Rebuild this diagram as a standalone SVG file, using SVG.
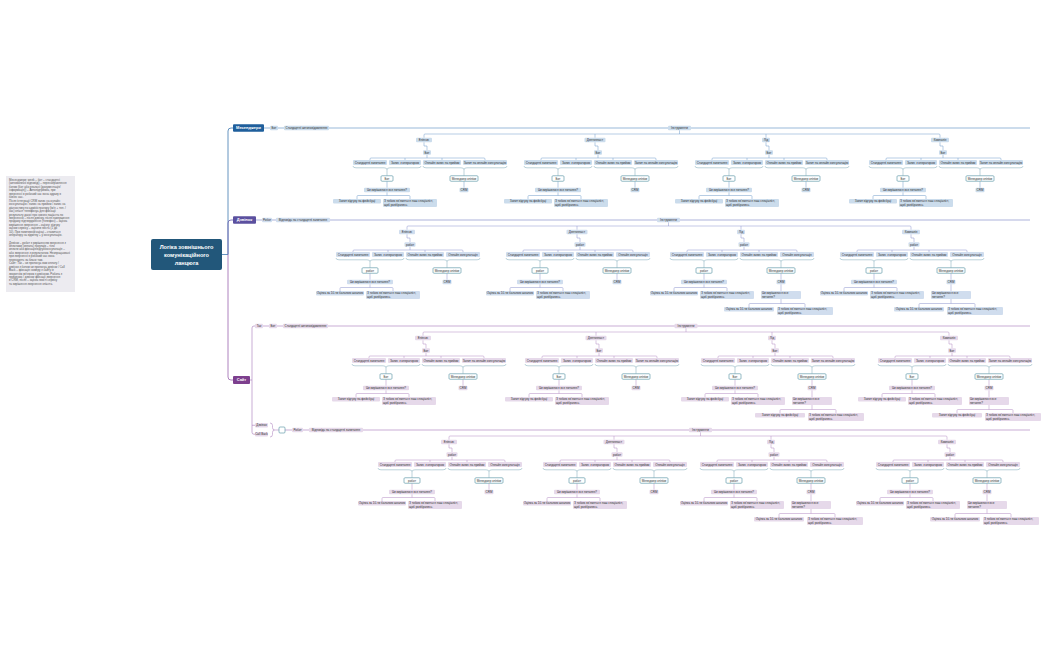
<svg xmlns="http://www.w3.org/2000/svg" width="1050" height="650" viewBox="0 0 1050 650">
<style>
.t{font-family:"Liberation Sans",Arial,sans-serif;font-size:3px;fill:#2f2f2f;text-anchor:middle}
.tl{text-anchor:start}
.mn{font-family:"Liberation Sans",Arial,sans-serif;font-size:4px;font-weight:bold;fill:#fff;text-anchor:middle}
.rt{font-family:"Liberation Sans",Arial,sans-serif;font-size:5.6px;font-weight:bold;fill:#fff;text-anchor:middle}
.nt{font-family:"Liberation Sans",Arial,sans-serif;font-size:2.9px;fill:#555}
.bb{fill:#cbdcec;rx:1px}
.bv{fill:#d0ddee;rx:1px}
.bp{fill:#e6d9ea;rx:1px}
.bo{fill:#fff;stroke:#4f8fa0;stroke-width:.6;rx:1px}
.lb{fill:none;stroke:#6e9bc8;stroke-width:.5}
.lv{fill:none;stroke:#8a92cc;stroke-width:.5}
.lp{fill:none;stroke:#b28ac3;stroke-width:.5}
.br{fill:none;stroke:#7aa7b6;stroke-width:.5}
</style>
<defs>
<path id="skL" d="M-5,14.25V18H-2V22.25M-2,26.75V30M-59,32V31Q-59,30 -58,30H55Q56,30 56,31V32M-24,30V32M13,30V32M-42,53.25V59.75M35,53.25V59.75M-42,64.25V67.5M-72,71V68.5Q-72,67.5 -71,67.5H-20Q-19,67.5 -19,68.5V71"/>
<path id="skS" d="M-5,14.25V18H-2V22.25M-2,26.75V30M-59,32V31Q-59,30 -58,30H50Q51,30 51,31V32M-24,30V32M13,30V32M-42,53.25V59.75M35,53.25V59.75M-42,64.25V67.5M-72,71V68.5Q-72,67.5 -71,67.5H-20Q-19,67.5 -19,68.5V71"/>
<path id="bkL" d="M-76,38q0,1.8 3,1.8H-45q3,0 3,1.8q0,-1.8 3,-1.8H-11q3,0 3,-1.8M-6,38q0,1.8 3,1.8H32q3,0 3,1.8q0,-1.8 3,-1.8H75q3,0 3,-1.8M-42,41.6V47.75M35,41.6V47.75"/>
<path id="bkS" d="M-76,38q0,1.8 3,1.8H-45q3,0 3,1.8q0,-1.8 3,-1.8H-11q3,0 3,-1.8M-6,38q0,1.8 3,1.8H32q3,0 3,1.8q0,-1.8 3,-1.8H65q3,0 3,-1.8M-42,41.6V47.75M35,41.6V47.75"/>
<path id="ex" d="M35,64.25V71M35,79V83.5M3,87V84.5Q3,83.5 4,83.5H58Q59,83.5 59,84.5V87"/>
</defs>
<rect width="1050" height="650" fill="#fff"/>

<g id="note">
<rect x="6" y="176" width="69" height="116" fill="#ecebf0"/>
<text class="nt">
<tspan x="9" y="181">Месенджери: week – бот – стандартні</tspan>
<tspan x="9" y="184.45">(автоматичні відповіді) – перенаправлення</tspan>
<tspan x="9" y="187.9">ботом (бот або реальні (документація/</tspan>
<tspan x="9" y="191.35">інформація)) – Автопідтримка, при</tspan>
<tspan x="9" y="194.8">зверненні в робочий час вона одразу в</tspan>
<tspan x="9" y="198.25">бізнес час.</tspan>
<tspan x="9" y="201.7">Після інтеграції CRM запис на онлайн</tspan>
<tspan x="9" y="205.15">консультацію / запис на прийом / запис на</tspan>
<tspan x="9" y="208.6">діагностику по адміністратору (ім'я + тел. /</tspan>
<tspan x="9" y="212.05">час) клієнт телефонує для фіксації</tspan>
<tspan x="9" y="215.5">результату даної про нового пацієнта по</tspan>
<tspan x="9" y="218.95">зверненню – після дзвінку, після завершення</tspan>
<tspan x="9" y="222.4">продажу підтвердження (телефон) – оцінка</tspan>
<tspan x="9" y="225.85">вирішення звернення – оцінку: відгуку</tspan>
<tspan x="9" y="229.3">оцінки сервісу – оцінити якість (1 до</tspan>
<tspan x="9" y="232.75">10). При позитивній оцінці – ставиться</tspan>
<tspan x="9" y="236.2">оператору на відмітку + у консультацію.</tspan>
<tspan x="9" y="243.5">Дзвінок – робот з вирішенням звернення з</tspan>
<tspan x="9" y="246.95">оплатами (оплата) покупців – тіло</tspan>
<tspan x="9" y="250.4">оплати або фіксація/відгук/консультація –</tspan>
<tspan x="9" y="253.85">або звернення з результатом. Неопрацьовані</tspan>
<tspan x="9" y="257.3">при зверненні в робочий час вона</tspan>
<tspan x="9" y="260.75">переходять за бланк там.</tspan>
<tspan x="9" y="264.2">Сайт: Так – чи пропонує вам оплату /</tspan>
<tspan x="9" y="267.65">дзвінок з ботом чи пропонує дзвінок / Call</tspan>
<tspan x="9" y="271.1">Back – фіксація номеру з сайту із</tspan>
<tspan x="9" y="274.55">зворотнім зв'язком з дзвінком. Робота з</tspan>
<tspan x="9" y="278">причиною / дзвінок фіксації звернення</tspan>
<tspan x="9" y="281.45">в CRM, після – оцінка якості сервісу</tspan>
<tspan x="9" y="284.9">та вирішення звернення клієнта.</tspan>
</text>
</g>

<g id="connectors">
<path d="M222,254.5H228V131Q228,128 231,128H233" fill="none" stroke="#3f78b0" stroke-width=".8"/>
<path d="M228,254.5V223Q228,220 231,220H233" fill="none" stroke="#6a5fae" stroke-width=".8"/>
<path d="M228,254.5V377Q228,380 231,380H233" fill="none" stroke="#9a63ad" stroke-width=".8"/>
<path d="M264,128H1030" fill="none" stroke="#6e9bc8" stroke-width=".7"/>
<path d="M256,220H1030" fill="none" stroke="#8a92cc" stroke-width=".7"/>
<path d="M250,380H252M255,326H254Q252,326 252,328V432.25Q252,434.25 254,434.25H255M252,425.25H255" fill="none" stroke="#b28ac3" stroke-width=".7"/>
<path d="M263,326H1030" fill="none" stroke="#b28ac3" stroke-width=".7"/>
<path d="M270,423q2.5,0 2.5,2.5v2q0,2.5 2,2.5q-2,0 -2,2.5v2q0,2.5 -2.5,2.5M274.5,430H279" fill="none" stroke="#b28ac3" stroke-width=".6"/>
<path d="M285,430H1030" fill="none" stroke="#b28ac3" stroke-width=".7"/>
<path class="lb" d="M424,137.75V135Q424,134 425,134H939Q940,134 940,135V137.75M595,134V137.75M766,134V137.75M679.5,130.25V134"/>
<path class="lv" d="M407,229.75V227Q407,226 408,226H910Q911,226 911,227V229.75M577,226V229.75M741,226V229.75M668.5,222.25V226"/>
<path class="lp" d="M423,335.75V333Q423,332 424,332H948Q949,332 949,333V335.75M596,332V335.75M772,332V335.75M686,328.25V332"/>
<path class="lp" d="M449,439.75V437Q449,436 450,436H946Q947,436 947,437V439.75M614,436V439.75M771,436V439.75M700.5,432.25V436"/>
<use href="#skL" class="lb" transform="translate(429,128)"/><use href="#bkL" class="br" transform="translate(429,128)"/>
<use href="#skL" class="lb" transform="translate(600,128)"/><use href="#bkL" class="br" transform="translate(600,128)"/>
<use href="#skL" class="lb" transform="translate(771,128)"/><use href="#bkL" class="br" transform="translate(771,128)"/>
<use href="#skL" class="lb" transform="translate(945,128)"/><use href="#bkL" class="br" transform="translate(945,128)"/>
<use href="#skS" class="lv" transform="translate(412,220)"/><use href="#bkS" class="br" transform="translate(412,220)"/>
<use href="#skS" class="lv" transform="translate(582,220)"/><use href="#bkS" class="br" transform="translate(582,220)"/>
<use href="#skS" class="lv" transform="translate(746,220)"/><use href="#bkS" class="br" transform="translate(746,220)"/><use href="#ex" class="lv" transform="translate(746,220)"/>
<use href="#skS" class="lv" transform="translate(916,220)"/><use href="#bkS" class="br" transform="translate(916,220)"/><use href="#ex" class="lv" transform="translate(916,220)"/>
<use href="#skL" class="lp" transform="translate(428,326)"/><use href="#bkL" class="br" transform="translate(428,326)"/>
<use href="#skL" class="lp" transform="translate(601,326)"/><use href="#bkL" class="br" transform="translate(601,326)"/>
<use href="#skL" class="lp" transform="translate(777,326)"/><use href="#bkL" class="br" transform="translate(777,326)"/><use href="#ex" class="lp" transform="translate(777,326)"/>
<use href="#skL" class="lp" transform="translate(954,326)"/><use href="#bkL" class="br" transform="translate(954,326)"/><use href="#ex" class="lp" transform="translate(954,326)"/>
<use href="#skS" class="lp" transform="translate(454,430)"/><use href="#bkS" class="br" transform="translate(454,430)"/>
<use href="#skS" class="lp" transform="translate(619,430)"/><use href="#bkS" class="br" transform="translate(619,430)"/>
<use href="#skS" class="lp" transform="translate(776,430)"/><use href="#bkS" class="br" transform="translate(776,430)"/><use href="#ex" class="lp" transform="translate(776,430)"/>
<use href="#skS" class="lp" transform="translate(952,430)"/><use href="#bkS" class="br" transform="translate(952,430)"/><use href="#ex" class="lp" transform="translate(952,430)"/>
</g>

<g id="root"><rect x="151" y="239" width="71" height="31" rx="2" fill="#22577a"/><text class="rt"><tspan x="186.5" y="248.7">Логіка зовнішнього</tspan><tspan x="186.5" y="257">комунікаційного</tspan><tspan x="186.5" y="265.3">ланцюга</tspan></text></g>
<g id="messengers"><rect x="233" y="124.25" width="31" height="7.5" rx="1" fill="#1f5f9c"/><text class="mn" x="248.5" y="129.4">Месенджери</text></g>
<g id="call"><rect x="233" y="216.25" width="23" height="7.5" rx="1" fill="#5b509f"/><text class="mn" x="244.5" y="221.4">Дзвінок</text></g>
<g id="site"><rect x="233" y="376" width="17" height="8" rx="1" fill="#7d3f8e"/><text class="mn" x="241.5" y="381.4">Сайт</text></g>

<g id="m-bot"><rect class="bb" x="270" y="125.75" width="8" height="4.5"/><text class="t" x="274" y="129.1">Бот</text></g>
<g id="m-std"><rect class="bb" x="284" y="125.75" width="45" height="4.5"/><text class="t" x="306.5" y="129.1">Стандартні автоповідомлення</text></g>
<g id="m-ins"><rect class="bb" x="668" y="125.75" width="23" height="4.5"/><text class="t" x="679.5" y="129.1">Інструменти</text></g>
<g id="d-rob"><rect class="bv" x="262" y="217.75" width="10" height="4.5"/><text class="t" x="267" y="221.1">Робот</text></g>
<g id="d-std"><rect class="bv" x="276" y="217.75" width="54" height="4.5"/><text class="t" x="303" y="221.1">Відповідь на стандартні запитання</text></g>
<g id="d-ins"><rect class="bv" x="657" y="217.75" width="23" height="4.5"/><text class="t" x="668.5" y="221.1">Інструменти</text></g>
<g id="s-yes"><rect class="bp" x="255" y="323.75" width="8" height="4.5"/><text class="t" x="259" y="327.1">Так</text></g>
<g id="s-bot"><rect class="bp" x="269" y="323.75" width="8" height="4.5"/><text class="t" x="273" y="327.1">Бот</text></g>
<g id="s-std"><rect class="bp" x="283" y="323.75" width="45" height="4.5"/><text class="t" x="305.5" y="327.1">Стандартні автоповідомлення</text></g>
<g id="s-ins"><rect class="bp" x="674.5" y="323.75" width="23" height="4.5"/><text class="t" x="686" y="327.1">Інструменти</text></g>
<g id="c-call"><rect class="bp" x="255" y="423" width="13" height="4.5"/><text class="t" x="261.5" y="426.35">Дзвінок</text></g>
<g id="c-cb"><rect class="bp" x="255" y="432" width="13" height="4.5"/><text class="t" x="261.5" y="435.35">Call Back</text></g>
<g id="c-box"><rect class="bo" x="279" y="427" width="6" height="6"/></g>
<g id="c-rob"><rect class="bp" x="292" y="427.75" width="11" height="4.5"/><text class="t" x="297.5" y="431.1">Робот</text></g>
<g id="c-std"><rect class="bp" x="309" y="427.75" width="54" height="4.5"/><text class="t" x="336" y="431.1">Відповідь на стандартні запитання</text></g>
<g id="c-ins"><rect class="bp" x="689" y="427.75" width="23" height="4.5"/><text class="t" x="700.5" y="431.1">Інструменти</text></g>

<g id="m1" transform="translate(429,128)">
<g id="m1-l"><rect class="bb" x="-13" y="9.75" width="16" height="4.5"/><text class="t" x="-5" y="13.1">Еліпсис</text></g>
<g id="m1-b"><rect class="bb" x="-6" y="22.25" width="8" height="4.5"/><text class="t" x="-2" y="25.6">Бот</text></g>
<g id="m1-c1"><rect class="bb" x="-76" y="32" width="34" height="5"/><text class="t" x="-59" y="35.6">Стандартні запитання</text></g>
<g id="m1-c2"><rect class="bb" x="-40" y="32" width="32" height="5"/><text class="t" x="-24" y="35.6">Запис з оператором</text></g>
<g id="m1-c3"><rect class="bb" x="-6" y="32" width="38" height="5"/><text class="t" x="13" y="35.6">Онлайн запис на прийом</text></g>
<g id="m1-c4"><rect class="bb" x="34" y="32" width="44" height="5"/><text class="t" x="56" y="35.6">Запит на онлайн консультацію</text></g>
<g id="m1-d1"><rect class="bo" x="-48" y="47.75" width="12" height="5.5"/><text class="t" x="-42" y="51.6">Бот</text></g>
<g id="m1-d2"><rect class="bo" x="21" y="47.75" width="28" height="5.5"/><text class="t" x="35" y="51.6">Менеджер клініки</text></g>
<g id="m1-e1"><rect class="bb" x="-65" y="59.75" width="46" height="4.5"/><text class="t" x="-42" y="63.1">Чи вирішилося все питання?</text></g>
<g id="m1-e2"><rect class="bb" x="30.5" y="59.75" width="9" height="4.5"/><text class="t" x="35" y="63.1">CRM</text></g>
<g id="m1-f1"><rect class="bb" x="-96" y="71" width="48" height="4.5"/><text class="t" x="-72" y="74.4">Запит відгуку на фейсбуці</text></g>
<g id="m1-f2"><rect class="bb" x="-46" y="71" width="54" height="8"/><text class="t tl" x="-45" y="74.3">З тобою зв'яжеться наш спеціаліст,<tspan x="-45" y="77.6">щоб розібратись.</tspan></text></g>
</g>
<g id="m2" transform="translate(600,128)">
<g id="m2-l"><rect class="bb" x="-15.5" y="9.75" width="21" height="4.5"/><text class="t" x="-5" y="13.1">Дентопласт</text></g>
<g id="m2-b"><rect class="bb" x="-6" y="22.25" width="8" height="4.5"/><text class="t" x="-2" y="25.6">Бот</text></g>
<g id="m2-c1"><rect class="bb" x="-76" y="32" width="34" height="5"/><text class="t" x="-59" y="35.6">Стандартні запитання</text></g>
<g id="m2-c2"><rect class="bb" x="-40" y="32" width="32" height="5"/><text class="t" x="-24" y="35.6">Запис з оператором</text></g>
<g id="m2-c3"><rect class="bb" x="-6" y="32" width="38" height="5"/><text class="t" x="13" y="35.6">Онлайн запис на прийом</text></g>
<g id="m2-c4"><rect class="bb" x="34" y="32" width="44" height="5"/><text class="t" x="56" y="35.6">Запит на онлайн консультацію</text></g>
<g id="m2-d1"><rect class="bo" x="-48" y="47.75" width="12" height="5.5"/><text class="t" x="-42" y="51.6">Бот</text></g>
<g id="m2-d2"><rect class="bo" x="21" y="47.75" width="28" height="5.5"/><text class="t" x="35" y="51.6">Менеджер клініки</text></g>
<g id="m2-e1"><rect class="bb" x="-65" y="59.75" width="46" height="4.5"/><text class="t" x="-42" y="63.1">Чи вирішилося все питання?</text></g>
<g id="m2-e2"><rect class="bb" x="30.5" y="59.75" width="9" height="4.5"/><text class="t" x="35" y="63.1">CRM</text></g>
<g id="m2-f1"><rect class="bb" x="-96" y="71" width="48" height="4.5"/><text class="t" x="-72" y="74.4">Запит відгуку на фейсбуці</text></g>
<g id="m2-f2"><rect class="bb" x="-46" y="71" width="54" height="8"/><text class="t tl" x="-45" y="74.3">З тобою зв'яжеться наш спеціаліст,<tspan x="-45" y="77.6">щоб розібратись.</tspan></text></g>
</g>
<g id="m3" transform="translate(771,128)">
<g id="m3-l"><rect class="bb" x="-9" y="9.75" width="8" height="4.5"/><text class="t" x="-5" y="13.1">Лід</text></g>
<g id="m3-b"><rect class="bb" x="-6" y="22.25" width="8" height="4.5"/><text class="t" x="-2" y="25.6">Бот</text></g>
<g id="m3-c1"><rect class="bb" x="-76" y="32" width="34" height="5"/><text class="t" x="-59" y="35.6">Стандартні запитання</text></g>
<g id="m3-c2"><rect class="bb" x="-40" y="32" width="32" height="5"/><text class="t" x="-24" y="35.6">Запис з оператором</text></g>
<g id="m3-c3"><rect class="bb" x="-6" y="32" width="38" height="5"/><text class="t" x="13" y="35.6">Онлайн запис на прийом</text></g>
<g id="m3-c4"><rect class="bb" x="34" y="32" width="44" height="5"/><text class="t" x="56" y="35.6">Запит на онлайн консультацію</text></g>
<g id="m3-d1"><rect class="bo" x="-48" y="47.75" width="12" height="5.5"/><text class="t" x="-42" y="51.6">Бот</text></g>
<g id="m3-d2"><rect class="bo" x="21" y="47.75" width="28" height="5.5"/><text class="t" x="35" y="51.6">Менеджер клініки</text></g>
<g id="m3-e1"><rect class="bb" x="-65" y="59.75" width="46" height="4.5"/><text class="t" x="-42" y="63.1">Чи вирішилося все питання?</text></g>
<g id="m3-e2"><rect class="bb" x="30.5" y="59.75" width="9" height="4.5"/><text class="t" x="35" y="63.1">CRM</text></g>
<g id="m3-f1"><rect class="bb" x="-96" y="71" width="48" height="4.5"/><text class="t" x="-72" y="74.4">Запит відгуку на фейсбуці</text></g>
<g id="m3-f2"><rect class="bb" x="-46" y="71" width="54" height="8"/><text class="t tl" x="-45" y="74.3">З тобою зв'яжеться наш спеціаліст,<tspan x="-45" y="77.6">щоб розібратись.</tspan></text></g>
</g>
<g id="m4" transform="translate(945,128)">
<g id="m4-l"><rect class="bb" x="-14" y="9.75" width="18" height="4.5"/><text class="t" x="-5" y="13.1">Компанія</text></g>
<g id="m4-b"><rect class="bb" x="-6" y="22.25" width="8" height="4.5"/><text class="t" x="-2" y="25.6">Бот</text></g>
<g id="m4-c1"><rect class="bb" x="-76" y="32" width="34" height="5"/><text class="t" x="-59" y="35.6">Стандартні запитання</text></g>
<g id="m4-c2"><rect class="bb" x="-40" y="32" width="32" height="5"/><text class="t" x="-24" y="35.6">Запис з оператором</text></g>
<g id="m4-c3"><rect class="bb" x="-6" y="32" width="38" height="5"/><text class="t" x="13" y="35.6">Онлайн запис на прийом</text></g>
<g id="m4-c4"><rect class="bb" x="34" y="32" width="44" height="5"/><text class="t" x="56" y="35.6">Запит на онлайн консультацію</text></g>
<g id="m4-d1"><rect class="bo" x="-48" y="47.75" width="12" height="5.5"/><text class="t" x="-42" y="51.6">Бот</text></g>
<g id="m4-d2"><rect class="bo" x="21" y="47.75" width="28" height="5.5"/><text class="t" x="35" y="51.6">Менеджер клініки</text></g>
<g id="m4-e1"><rect class="bb" x="-65" y="59.75" width="46" height="4.5"/><text class="t" x="-42" y="63.1">Чи вирішилося все питання?</text></g>
<g id="m4-e2"><rect class="bb" x="30.5" y="59.75" width="9" height="4.5"/><text class="t" x="35" y="63.1">CRM</text></g>
<g id="m4-f1"><rect class="bb" x="-96" y="71" width="48" height="4.5"/><text class="t" x="-72" y="74.4">Запит відгуку на фейсбуці</text></g>
<g id="m4-f2"><rect class="bb" x="-46" y="71" width="54" height="8"/><text class="t tl" x="-45" y="74.3">З тобою зв'яжеться наш спеціаліст,<tspan x="-45" y="77.6">щоб розібратись.</tspan></text></g>
</g>

<g id="d1" transform="translate(412,220)">
<g id="d1-l"><rect class="bv" x="-13" y="9.75" width="16" height="4.5"/><text class="t" x="-5" y="13.1">Еліпсис</text></g>
<g id="d1-b"><rect class="bv" x="-7.5" y="22.25" width="11" height="4.5"/><text class="t" x="-2" y="25.6">робот</text></g>
<g id="d1-c1"><rect class="bv" x="-76" y="32" width="34" height="5"/><text class="t" x="-59" y="35.6">Стандартні запитання</text></g>
<g id="d1-c2"><rect class="bv" x="-40" y="32" width="32" height="5"/><text class="t" x="-24" y="35.6">Запис з оператором</text></g>
<g id="d1-c3"><rect class="bv" x="-6" y="32" width="38" height="5"/><text class="t" x="13" y="35.6">Онлайн запис на прийом</text></g>
<g id="d1-c4"><rect class="bv" x="34" y="32" width="34" height="5"/><text class="t" x="51" y="35.6">Онлайн консультація</text></g>
<g id="d1-d1"><rect class="bo" x="-50" y="47.75" width="16" height="5.5"/><text class="t" x="-42" y="51.6">робот</text></g>
<g id="d1-d2"><rect class="bo" x="21" y="47.75" width="28" height="5.5"/><text class="t" x="35" y="51.6">Менеджер клініки</text></g>
<g id="d1-e1"><rect class="bv" x="-65" y="59.75" width="46" height="4.5"/><text class="t" x="-42" y="63.1">Чи вирішилося все питання?</text></g>
<g id="d1-e2"><rect class="bv" x="30.5" y="59.75" width="9" height="4.5"/><text class="t" x="35" y="63.1">CRM</text></g>
<g id="d1-f1"><rect class="bv" x="-96" y="71" width="48" height="4.5"/><text class="t" x="-72" y="74.4">Оцінка за 10-ти бальною шкалою</text></g>
<g id="d1-f2"><rect class="bv" x="-46" y="71" width="54" height="8"/><text class="t tl" x="-45" y="74.3">З тобою зв'яжеться наш спеціаліст,<tspan x="-45" y="77.6">щоб розібратись.</tspan></text></g>
</g>
<g id="d2" transform="translate(582,220)">
<g id="d2-l"><rect class="bv" x="-15.5" y="9.75" width="21" height="4.5"/><text class="t" x="-5" y="13.1">Дентопласт</text></g>
<g id="d2-b"><rect class="bv" x="-7.5" y="22.25" width="11" height="4.5"/><text class="t" x="-2" y="25.6">робот</text></g>
<g id="d2-c1"><rect class="bv" x="-76" y="32" width="34" height="5"/><text class="t" x="-59" y="35.6">Стандартні запитання</text></g>
<g id="d2-c2"><rect class="bv" x="-40" y="32" width="32" height="5"/><text class="t" x="-24" y="35.6">Запис з оператором</text></g>
<g id="d2-c3"><rect class="bv" x="-6" y="32" width="38" height="5"/><text class="t" x="13" y="35.6">Онлайн запис на прийом</text></g>
<g id="d2-c4"><rect class="bv" x="34" y="32" width="34" height="5"/><text class="t" x="51" y="35.6">Онлайн консультація</text></g>
<g id="d2-d1"><rect class="bo" x="-50" y="47.75" width="16" height="5.5"/><text class="t" x="-42" y="51.6">робот</text></g>
<g id="d2-d2"><rect class="bo" x="21" y="47.75" width="28" height="5.5"/><text class="t" x="35" y="51.6">Менеджер клініки</text></g>
<g id="d2-e1"><rect class="bv" x="-65" y="59.75" width="46" height="4.5"/><text class="t" x="-42" y="63.1">Чи вирішилося все питання?</text></g>
<g id="d2-e2"><rect class="bv" x="30.5" y="59.75" width="9" height="4.5"/><text class="t" x="35" y="63.1">CRM</text></g>
<g id="d2-f1"><rect class="bv" x="-96" y="71" width="48" height="4.5"/><text class="t" x="-72" y="74.4">Оцінка за 10-ти бальною шкалою</text></g>
<g id="d2-f2"><rect class="bv" x="-46" y="71" width="54" height="8"/><text class="t tl" x="-45" y="74.3">З тобою зв'яжеться наш спеціаліст,<tspan x="-45" y="77.6">щоб розібратись.</tspan></text></g>
</g>
<g id="d3" transform="translate(746,220)">
<g id="d3-l"><rect class="bv" x="-9" y="9.75" width="8" height="4.5"/><text class="t" x="-5" y="13.1">Лід</text></g>
<g id="d3-b"><rect class="bv" x="-7.5" y="22.25" width="11" height="4.5"/><text class="t" x="-2" y="25.6">робот</text></g>
<g id="d3-c1"><rect class="bv" x="-76" y="32" width="34" height="5"/><text class="t" x="-59" y="35.6">Стандартні запитання</text></g>
<g id="d3-c2"><rect class="bv" x="-40" y="32" width="32" height="5"/><text class="t" x="-24" y="35.6">Запис з оператором</text></g>
<g id="d3-c3"><rect class="bv" x="-6" y="32" width="38" height="5"/><text class="t" x="13" y="35.6">Онлайн запис на прийом</text></g>
<g id="d3-c4"><rect class="bv" x="34" y="32" width="34" height="5"/><text class="t" x="51" y="35.6">Онлайн консультація</text></g>
<g id="d3-d1"><rect class="bo" x="-50" y="47.75" width="16" height="5.5"/><text class="t" x="-42" y="51.6">робот</text></g>
<g id="d3-d2"><rect class="bo" x="21" y="47.75" width="28" height="5.5"/><text class="t" x="35" y="51.6">Менеджер клініки</text></g>
<g id="d3-e1"><rect class="bv" x="-65" y="59.75" width="46" height="4.5"/><text class="t" x="-42" y="63.1">Чи вирішилося все питання?</text></g>
<g id="d3-e2"><rect class="bv" x="30.5" y="59.75" width="9" height="4.5"/><text class="t" x="35" y="63.1">CRM</text></g>
<g id="d3-f1"><rect class="bv" x="-96" y="71" width="48" height="4.5"/><text class="t" x="-72" y="74.4">Оцінка за 10-ти бальною шкалою</text></g>
<g id="d3-f2"><rect class="bv" x="-46" y="71" width="54" height="8"/><text class="t tl" x="-45" y="74.3">З тобою зв'яжеться наш спеціаліст,<tspan x="-45" y="77.6">щоб розібратись.</tspan></text></g>
<g id="d3-g1"><rect class="bv" x="15" y="71" width="40" height="8"/><text class="t tl" x="16" y="74.3">Чи вирішилося все<tspan x="16" y="77.6">питання?</tspan></text></g>
<g id="d3-h1"><rect class="bv" x="-22" y="87" width="50" height="4.5"/><text class="t" x="3" y="90.4">Оцінка за 10-ти бальною шкалою</text></g>
<g id="d3-h2"><rect class="bv" x="31" y="87" width="56" height="8"/><text class="t tl" x="32" y="90.3">З тобою зв'яжеться наш спеціаліст,<tspan x="32" y="93.6">щоб розібратись.</tspan></text></g>
</g>
<g id="d4" transform="translate(916,220)">
<g id="d4-l"><rect class="bv" x="-14" y="9.75" width="18" height="4.5"/><text class="t" x="-5" y="13.1">Компанія</text></g>
<g id="d4-b"><rect class="bv" x="-7.5" y="22.25" width="11" height="4.5"/><text class="t" x="-2" y="25.6">робот</text></g>
<g id="d4-c1"><rect class="bv" x="-76" y="32" width="34" height="5"/><text class="t" x="-59" y="35.6">Стандартні запитання</text></g>
<g id="d4-c2"><rect class="bv" x="-40" y="32" width="32" height="5"/><text class="t" x="-24" y="35.6">Запис з оператором</text></g>
<g id="d4-c3"><rect class="bv" x="-6" y="32" width="38" height="5"/><text class="t" x="13" y="35.6">Онлайн запис на прийом</text></g>
<g id="d4-c4"><rect class="bv" x="34" y="32" width="34" height="5"/><text class="t" x="51" y="35.6">Онлайн консультація</text></g>
<g id="d4-d1"><rect class="bo" x="-50" y="47.75" width="16" height="5.5"/><text class="t" x="-42" y="51.6">робот</text></g>
<g id="d4-d2"><rect class="bo" x="21" y="47.75" width="28" height="5.5"/><text class="t" x="35" y="51.6">Менеджер клініки</text></g>
<g id="d4-e1"><rect class="bv" x="-65" y="59.75" width="46" height="4.5"/><text class="t" x="-42" y="63.1">Чи вирішилося все питання?</text></g>
<g id="d4-e2"><rect class="bv" x="30.5" y="59.75" width="9" height="4.5"/><text class="t" x="35" y="63.1">CRM</text></g>
<g id="d4-f1"><rect class="bv" x="-96" y="71" width="48" height="4.5"/><text class="t" x="-72" y="74.4">Оцінка за 10-ти бальною шкалою</text></g>
<g id="d4-f2"><rect class="bv" x="-46" y="71" width="54" height="8"/><text class="t tl" x="-45" y="74.3">З тобою зв'яжеться наш спеціаліст,<tspan x="-45" y="77.6">щоб розібратись.</tspan></text></g>
<g id="d4-g1"><rect class="bv" x="15" y="71" width="40" height="8"/><text class="t tl" x="16" y="74.3">Чи вирішилося все<tspan x="16" y="77.6">питання?</tspan></text></g>
<g id="d4-h1"><rect class="bv" x="-22" y="87" width="50" height="4.5"/><text class="t" x="3" y="90.4">Оцінка за 10-ти бальною шкалою</text></g>
<g id="d4-h2"><rect class="bv" x="31" y="87" width="56" height="8"/><text class="t tl" x="32" y="90.3">З тобою зв'яжеться наш спеціаліст,<tspan x="32" y="93.6">щоб розібратись.</tspan></text></g>
</g>

<g id="s1" transform="translate(428,326)">
<g id="s1-l"><rect class="bp" x="-13" y="9.75" width="16" height="4.5"/><text class="t" x="-5" y="13.1">Еліпсис</text></g>
<g id="s1-b"><rect class="bp" x="-6" y="22.25" width="8" height="4.5"/><text class="t" x="-2" y="25.6">Бот</text></g>
<g id="s1-c1"><rect class="bp" x="-76" y="32" width="34" height="5"/><text class="t" x="-59" y="35.6">Стандартні запитання</text></g>
<g id="s1-c2"><rect class="bp" x="-40" y="32" width="32" height="5"/><text class="t" x="-24" y="35.6">Запис з оператором</text></g>
<g id="s1-c3"><rect class="bp" x="-6" y="32" width="38" height="5"/><text class="t" x="13" y="35.6">Онлайн запис на прийом</text></g>
<g id="s1-c4"><rect class="bp" x="34" y="32" width="44" height="5"/><text class="t" x="56" y="35.6">Запит на онлайн консультацію</text></g>
<g id="s1-d1"><rect class="bo" x="-48" y="47.75" width="12" height="5.5"/><text class="t" x="-42" y="51.6">Бот</text></g>
<g id="s1-d2"><rect class="bo" x="21" y="47.75" width="28" height="5.5"/><text class="t" x="35" y="51.6">Менеджер клініки</text></g>
<g id="s1-e1"><rect class="bp" x="-65" y="59.75" width="46" height="4.5"/><text class="t" x="-42" y="63.1">Чи вирішилося все питання?</text></g>
<g id="s1-e2"><rect class="bp" x="30.5" y="59.75" width="9" height="4.5"/><text class="t" x="35" y="63.1">CRM</text></g>
<g id="s1-f1"><rect class="bp" x="-96" y="71" width="48" height="4.5"/><text class="t" x="-72" y="74.4">Запит відгуку на фейсбуці</text></g>
<g id="s1-f2"><rect class="bp" x="-46" y="71" width="54" height="8"/><text class="t tl" x="-45" y="74.3">З тобою зв'яжеться наш спеціаліст,<tspan x="-45" y="77.6">щоб розібратись.</tspan></text></g>
</g>
<g id="s2" transform="translate(601,326)">
<g id="s2-l"><rect class="bp" x="-15.5" y="9.75" width="21" height="4.5"/><text class="t" x="-5" y="13.1">Дентопласт</text></g>
<g id="s2-b"><rect class="bp" x="-6" y="22.25" width="8" height="4.5"/><text class="t" x="-2" y="25.6">Бот</text></g>
<g id="s2-c1"><rect class="bp" x="-76" y="32" width="34" height="5"/><text class="t" x="-59" y="35.6">Стандартні запитання</text></g>
<g id="s2-c2"><rect class="bp" x="-40" y="32" width="32" height="5"/><text class="t" x="-24" y="35.6">Запис з оператором</text></g>
<g id="s2-c3"><rect class="bp" x="-6" y="32" width="38" height="5"/><text class="t" x="13" y="35.6">Онлайн запис на прийом</text></g>
<g id="s2-c4"><rect class="bp" x="34" y="32" width="44" height="5"/><text class="t" x="56" y="35.6">Запит на онлайн консультацію</text></g>
<g id="s2-d1"><rect class="bo" x="-48" y="47.75" width="12" height="5.5"/><text class="t" x="-42" y="51.6">Бот</text></g>
<g id="s2-d2"><rect class="bo" x="21" y="47.75" width="28" height="5.5"/><text class="t" x="35" y="51.6">Менеджер клініки</text></g>
<g id="s2-e1"><rect class="bp" x="-65" y="59.75" width="46" height="4.5"/><text class="t" x="-42" y="63.1">Чи вирішилося все питання?</text></g>
<g id="s2-e2"><rect class="bp" x="30.5" y="59.75" width="9" height="4.5"/><text class="t" x="35" y="63.1">CRM</text></g>
<g id="s2-f1"><rect class="bp" x="-96" y="71" width="48" height="4.5"/><text class="t" x="-72" y="74.4">Запит відгуку на фейсбуці</text></g>
<g id="s2-f2"><rect class="bp" x="-46" y="71" width="54" height="8"/><text class="t tl" x="-45" y="74.3">З тобою зв'яжеться наш спеціаліст,<tspan x="-45" y="77.6">щоб розібратись.</tspan></text></g>
</g>
<g id="s3" transform="translate(777,326)">
<g id="s3-l"><rect class="bp" x="-9" y="9.75" width="8" height="4.5"/><text class="t" x="-5" y="13.1">Лід</text></g>
<g id="s3-b"><rect class="bp" x="-6" y="22.25" width="8" height="4.5"/><text class="t" x="-2" y="25.6">Бот</text></g>
<g id="s3-c1"><rect class="bp" x="-76" y="32" width="34" height="5"/><text class="t" x="-59" y="35.6">Стандартні запитання</text></g>
<g id="s3-c2"><rect class="bp" x="-40" y="32" width="32" height="5"/><text class="t" x="-24" y="35.6">Запис з оператором</text></g>
<g id="s3-c3"><rect class="bp" x="-6" y="32" width="38" height="5"/><text class="t" x="13" y="35.6">Онлайн запис на прийом</text></g>
<g id="s3-c4"><rect class="bp" x="34" y="32" width="44" height="5"/><text class="t" x="56" y="35.6">Запит на онлайн консультацію</text></g>
<g id="s3-d1"><rect class="bo" x="-48" y="47.75" width="12" height="5.5"/><text class="t" x="-42" y="51.6">Бот</text></g>
<g id="s3-d2"><rect class="bo" x="21" y="47.75" width="28" height="5.5"/><text class="t" x="35" y="51.6">Менеджер клініки</text></g>
<g id="s3-e1"><rect class="bp" x="-65" y="59.75" width="46" height="4.5"/><text class="t" x="-42" y="63.1">Чи вирішилося все питання?</text></g>
<g id="s3-e2"><rect class="bp" x="30.5" y="59.75" width="9" height="4.5"/><text class="t" x="35" y="63.1">CRM</text></g>
<g id="s3-f1"><rect class="bp" x="-96" y="71" width="48" height="4.5"/><text class="t" x="-72" y="74.4">Запит відгуку на фейсбуці</text></g>
<g id="s3-f2"><rect class="bp" x="-46" y="71" width="54" height="8"/><text class="t tl" x="-45" y="74.3">З тобою зв'яжеться наш спеціаліст,<tspan x="-45" y="77.6">щоб розібратись.</tspan></text></g>
<g id="s3-g1"><rect class="bp" x="15" y="71" width="40" height="8"/><text class="t tl" x="16" y="74.3">Чи вирішилося все<tspan x="16" y="77.6">питання?</tspan></text></g>
<g id="s3-h1"><rect class="bp" x="-22" y="87" width="50" height="4.5"/><text class="t" x="3" y="90.4">Запит відгуку на фейсбуці</text></g>
<g id="s3-h2"><rect class="bp" x="31" y="87" width="56" height="8"/><text class="t tl" x="32" y="90.3">З тобою зв'яжеться наш спеціаліст,<tspan x="32" y="93.6">щоб розібратись.</tspan></text></g>
</g>
<g id="s4" transform="translate(954,326)">
<g id="s4-l"><rect class="bp" x="-14" y="9.75" width="18" height="4.5"/><text class="t" x="-5" y="13.1">Компанія</text></g>
<g id="s4-b"><rect class="bp" x="-6" y="22.25" width="8" height="4.5"/><text class="t" x="-2" y="25.6">Бот</text></g>
<g id="s4-c1"><rect class="bp" x="-76" y="32" width="34" height="5"/><text class="t" x="-59" y="35.6">Стандартні запитання</text></g>
<g id="s4-c2"><rect class="bp" x="-40" y="32" width="32" height="5"/><text class="t" x="-24" y="35.6">Запис з оператором</text></g>
<g id="s4-c3"><rect class="bp" x="-6" y="32" width="38" height="5"/><text class="t" x="13" y="35.6">Онлайн запис на прийом</text></g>
<g id="s4-c4"><rect class="bp" x="34" y="32" width="44" height="5"/><text class="t" x="56" y="35.6">Запит на онлайн консультацію</text></g>
<g id="s4-d1"><rect class="bo" x="-48" y="47.75" width="12" height="5.5"/><text class="t" x="-42" y="51.6">Бот</text></g>
<g id="s4-d2"><rect class="bo" x="21" y="47.75" width="28" height="5.5"/><text class="t" x="35" y="51.6">Менеджер клініки</text></g>
<g id="s4-e1"><rect class="bp" x="-65" y="59.75" width="46" height="4.5"/><text class="t" x="-42" y="63.1">Чи вирішилося все питання?</text></g>
<g id="s4-e2"><rect class="bp" x="30.5" y="59.75" width="9" height="4.5"/><text class="t" x="35" y="63.1">CRM</text></g>
<g id="s4-f1"><rect class="bp" x="-96" y="71" width="48" height="4.5"/><text class="t" x="-72" y="74.4">Запит відгуку на фейсбуці</text></g>
<g id="s4-f2"><rect class="bp" x="-46" y="71" width="54" height="8"/><text class="t tl" x="-45" y="74.3">З тобою зв'яжеться наш спеціаліст,<tspan x="-45" y="77.6">щоб розібратись.</tspan></text></g>
<g id="s4-g1"><rect class="bp" x="15" y="71" width="40" height="8"/><text class="t tl" x="16" y="74.3">Чи вирішилося все<tspan x="16" y="77.6">питання?</tspan></text></g>
<g id="s4-h1"><rect class="bp" x="-22" y="87" width="50" height="4.5"/><text class="t" x="3" y="90.4">Запит відгуку на фейсбуці</text></g>
<g id="s4-h2"><rect class="bp" x="31" y="87" width="56" height="8"/><text class="t tl" x="32" y="90.3">З тобою зв'яжеться наш спеціаліст,<tspan x="32" y="93.6">щоб розібратись.</tspan></text></g>
</g>

<g id="c1" transform="translate(454,430)">
<g id="c1-l"><rect class="bp" x="-13" y="9.75" width="16" height="4.5"/><text class="t" x="-5" y="13.1">Еліпсис</text></g>
<g id="c1-b"><rect class="bp" x="-7.5" y="22.25" width="11" height="4.5"/><text class="t" x="-2" y="25.6">робот</text></g>
<g id="c1-c1"><rect class="bp" x="-76" y="32" width="34" height="5"/><text class="t" x="-59" y="35.6">Стандартні запитання</text></g>
<g id="c1-c2"><rect class="bp" x="-40" y="32" width="32" height="5"/><text class="t" x="-24" y="35.6">Запис з оператором</text></g>
<g id="c1-c3"><rect class="bp" x="-6" y="32" width="38" height="5"/><text class="t" x="13" y="35.6">Онлайн запис на прийом</text></g>
<g id="c1-c4"><rect class="bp" x="34" y="32" width="34" height="5"/><text class="t" x="51" y="35.6">Онлайн консультація</text></g>
<g id="c1-d1"><rect class="bo" x="-50" y="47.75" width="16" height="5.5"/><text class="t" x="-42" y="51.6">робот</text></g>
<g id="c1-d2"><rect class="bo" x="21" y="47.75" width="28" height="5.5"/><text class="t" x="35" y="51.6">Менеджер клініки</text></g>
<g id="c1-e1"><rect class="bp" x="-65" y="59.75" width="46" height="4.5"/><text class="t" x="-42" y="63.1">Чи вирішилося все питання?</text></g>
<g id="c1-e2"><rect class="bp" x="30.5" y="59.75" width="9" height="4.5"/><text class="t" x="35" y="63.1">CRM</text></g>
<g id="c1-f1"><rect class="bp" x="-96" y="71" width="48" height="4.5"/><text class="t" x="-72" y="74.4">Оцінка за 10-ти бальною шкалою</text></g>
<g id="c1-f2"><rect class="bp" x="-46" y="71" width="54" height="8"/><text class="t tl" x="-45" y="74.3">З тобою зв'яжеться наш спеціаліст,<tspan x="-45" y="77.6">щоб розібратись.</tspan></text></g>
</g>
<g id="c2" transform="translate(619,430)">
<g id="c2-l"><rect class="bp" x="-15.5" y="9.75" width="21" height="4.5"/><text class="t" x="-5" y="13.1">Дентопласт</text></g>
<g id="c2-b"><rect class="bp" x="-7.5" y="22.25" width="11" height="4.5"/><text class="t" x="-2" y="25.6">робот</text></g>
<g id="c2-c1"><rect class="bp" x="-76" y="32" width="34" height="5"/><text class="t" x="-59" y="35.6">Стандартні запитання</text></g>
<g id="c2-c2"><rect class="bp" x="-40" y="32" width="32" height="5"/><text class="t" x="-24" y="35.6">Запис з оператором</text></g>
<g id="c2-c3"><rect class="bp" x="-6" y="32" width="38" height="5"/><text class="t" x="13" y="35.6">Онлайн запис на прийом</text></g>
<g id="c2-c4"><rect class="bp" x="34" y="32" width="34" height="5"/><text class="t" x="51" y="35.6">Онлайн консультація</text></g>
<g id="c2-d1"><rect class="bo" x="-50" y="47.75" width="16" height="5.5"/><text class="t" x="-42" y="51.6">робот</text></g>
<g id="c2-d2"><rect class="bo" x="21" y="47.75" width="28" height="5.5"/><text class="t" x="35" y="51.6">Менеджер клініки</text></g>
<g id="c2-e1"><rect class="bp" x="-65" y="59.75" width="46" height="4.5"/><text class="t" x="-42" y="63.1">Чи вирішилося все питання?</text></g>
<g id="c2-e2"><rect class="bp" x="30.5" y="59.75" width="9" height="4.5"/><text class="t" x="35" y="63.1">CRM</text></g>
<g id="c2-f1"><rect class="bp" x="-96" y="71" width="48" height="4.5"/><text class="t" x="-72" y="74.4">Оцінка за 10-ти бальною шкалою</text></g>
<g id="c2-f2"><rect class="bp" x="-46" y="71" width="54" height="8"/><text class="t tl" x="-45" y="74.3">З тобою зв'яжеться наш спеціаліст,<tspan x="-45" y="77.6">щоб розібратись.</tspan></text></g>
</g>
<g id="c3" transform="translate(776,430)">
<g id="c3-l"><rect class="bp" x="-9" y="9.75" width="8" height="4.5"/><text class="t" x="-5" y="13.1">Лід</text></g>
<g id="c3-b"><rect class="bp" x="-7.5" y="22.25" width="11" height="4.5"/><text class="t" x="-2" y="25.6">робот</text></g>
<g id="c3-c1"><rect class="bp" x="-76" y="32" width="34" height="5"/><text class="t" x="-59" y="35.6">Стандартні запитання</text></g>
<g id="c3-c2"><rect class="bp" x="-40" y="32" width="32" height="5"/><text class="t" x="-24" y="35.6">Запис з оператором</text></g>
<g id="c3-c3"><rect class="bp" x="-6" y="32" width="38" height="5"/><text class="t" x="13" y="35.6">Онлайн запис на прийом</text></g>
<g id="c3-c4"><rect class="bp" x="34" y="32" width="34" height="5"/><text class="t" x="51" y="35.6">Онлайн консультація</text></g>
<g id="c3-d1"><rect class="bo" x="-50" y="47.75" width="16" height="5.5"/><text class="t" x="-42" y="51.6">робот</text></g>
<g id="c3-d2"><rect class="bo" x="21" y="47.75" width="28" height="5.5"/><text class="t" x="35" y="51.6">Менеджер клініки</text></g>
<g id="c3-e1"><rect class="bp" x="-65" y="59.75" width="46" height="4.5"/><text class="t" x="-42" y="63.1">Чи вирішилося все питання?</text></g>
<g id="c3-e2"><rect class="bp" x="30.5" y="59.75" width="9" height="4.5"/><text class="t" x="35" y="63.1">CRM</text></g>
<g id="c3-f1"><rect class="bp" x="-96" y="71" width="48" height="4.5"/><text class="t" x="-72" y="74.4">Оцінка за 10-ти бальною шкалою</text></g>
<g id="c3-f2"><rect class="bp" x="-46" y="71" width="54" height="8"/><text class="t tl" x="-45" y="74.3">З тобою зв'яжеться наш спеціаліст,<tspan x="-45" y="77.6">щоб розібратись.</tspan></text></g>
<g id="c3-g1"><rect class="bp" x="15" y="71" width="40" height="8"/><text class="t tl" x="16" y="74.3">Чи вирішилося все<tspan x="16" y="77.6">питання?</tspan></text></g>
<g id="c3-h1"><rect class="bp" x="-22" y="87" width="50" height="4.5"/><text class="t" x="3" y="90.4">Оцінка за 10-ти бальною шкалою</text></g>
<g id="c3-h2"><rect class="bp" x="31" y="87" width="56" height="8"/><text class="t tl" x="32" y="90.3">З тобою зв'яжеться наш спеціаліст,<tspan x="32" y="93.6">щоб розібратись.</tspan></text></g>
</g>
<g id="c4" transform="translate(952,430)">
<g id="c4-l"><rect class="bp" x="-14" y="9.75" width="18" height="4.5"/><text class="t" x="-5" y="13.1">Компанія</text></g>
<g id="c4-b"><rect class="bp" x="-7.5" y="22.25" width="11" height="4.5"/><text class="t" x="-2" y="25.6">робот</text></g>
<g id="c4-c1"><rect class="bp" x="-76" y="32" width="34" height="5"/><text class="t" x="-59" y="35.6">Стандартні запитання</text></g>
<g id="c4-c2"><rect class="bp" x="-40" y="32" width="32" height="5"/><text class="t" x="-24" y="35.6">Запис з оператором</text></g>
<g id="c4-c3"><rect class="bp" x="-6" y="32" width="38" height="5"/><text class="t" x="13" y="35.6">Онлайн запис на прийом</text></g>
<g id="c4-c4"><rect class="bp" x="34" y="32" width="34" height="5"/><text class="t" x="51" y="35.6">Онлайн консультація</text></g>
<g id="c4-d1"><rect class="bo" x="-50" y="47.75" width="16" height="5.5"/><text class="t" x="-42" y="51.6">робот</text></g>
<g id="c4-d2"><rect class="bo" x="21" y="47.75" width="28" height="5.5"/><text class="t" x="35" y="51.6">Менеджер клініки</text></g>
<g id="c4-e1"><rect class="bp" x="-65" y="59.75" width="46" height="4.5"/><text class="t" x="-42" y="63.1">Чи вирішилося все питання?</text></g>
<g id="c4-e2"><rect class="bp" x="30.5" y="59.75" width="9" height="4.5"/><text class="t" x="35" y="63.1">CRM</text></g>
<g id="c4-f1"><rect class="bp" x="-96" y="71" width="48" height="4.5"/><text class="t" x="-72" y="74.4">Оцінка за 10-ти бальною шкалою</text></g>
<g id="c4-f2"><rect class="bp" x="-46" y="71" width="54" height="8"/><text class="t tl" x="-45" y="74.3">З тобою зв'яжеться наш спеціаліст,<tspan x="-45" y="77.6">щоб розібратись.</tspan></text></g>
<g id="c4-g1"><rect class="bp" x="15" y="71" width="40" height="8"/><text class="t tl" x="16" y="74.3">Чи вирішилося все<tspan x="16" y="77.6">питання?</tspan></text></g>
<g id="c4-h1"><rect class="bp" x="-22" y="87" width="50" height="4.5"/><text class="t" x="3" y="90.4">Оцінка за 10-ти бальною шкалою</text></g>
<g id="c4-h2"><rect class="bp" x="31" y="87" width="56" height="8"/><text class="t tl" x="32" y="90.3">З тобою зв'яжеться наш спеціаліст,<tspan x="32" y="93.6">щоб розібратись.</tspan></text></g>
</g>
</svg>
